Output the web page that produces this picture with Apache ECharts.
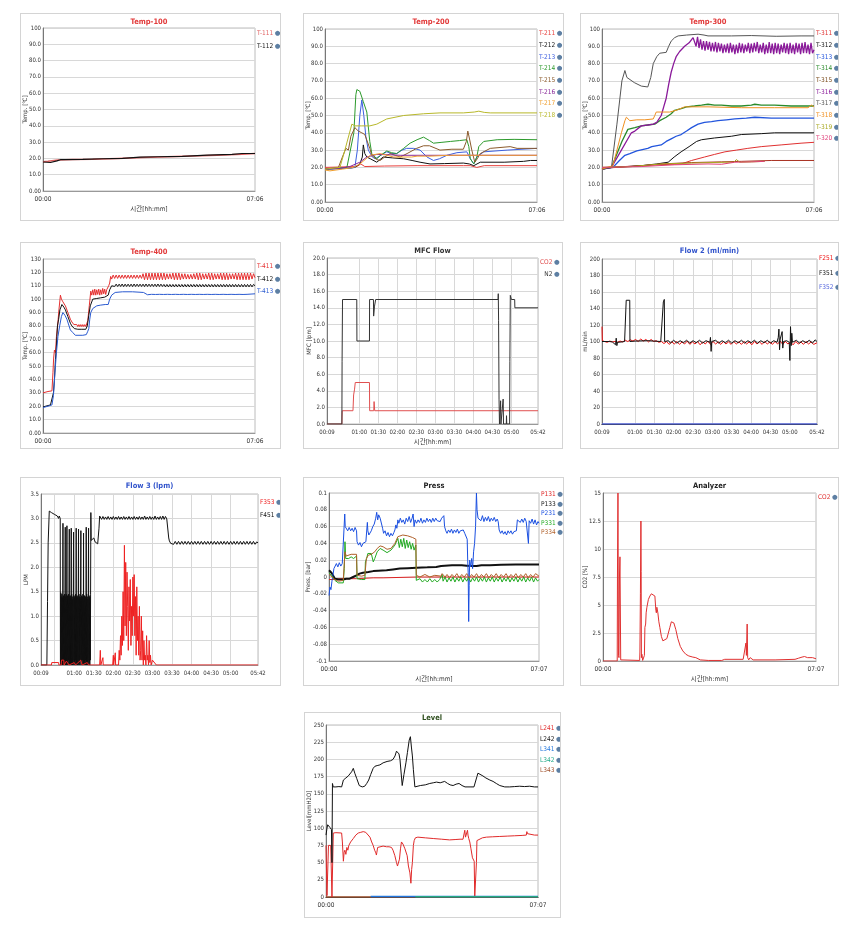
<!DOCTYPE html>
<html><head><meta charset="utf-8">
<script src="https://cdn.jsdelivr.net/npm/echarts@6/dist/echarts.min.js"></script>
<style>
body{margin:0;background:#fff;width:858px;height:936px;position:relative;overflow:hidden}
.p{position:absolute;border:1px solid #d4d4d4;box-sizing:border-box;background:#fff}
</style></head><body>
<div id="c1" class="p" style="left:20px;top:13px;width:261px;height:208px"></div>
<div id="c2" class="p" style="left:303px;top:13px;width:261px;height:208px"></div>
<div id="c3" class="p" style="left:580px;top:13px;width:259px;height:208px"></div>
<div id="c4" class="p" style="left:20px;top:242px;width:261px;height:207px"></div>
<div id="c5" class="p" style="left:303px;top:242px;width:260px;height:207px"></div>
<div id="c6" class="p" style="left:580px;top:242px;width:259px;height:207px"></div>
<div id="c7" class="p" style="left:20px;top:477px;width:261px;height:209px"></div>
<div id="c8" class="p" style="left:303px;top:477px;width:261px;height:209px"></div>
<div id="c9" class="p" style="left:580px;top:477px;width:259px;height:209px"></div>
<div id="c10" class="p" style="left:304px;top:712px;width:257px;height:206px"></div>
<script>
// ---------- tick label positions (minutes) ----------
const ticksT = [0, 426];
const ticks7 = [0, 427];
const ticksFlow = [9, 60, 90, 120, 150, 180, 210, 240, 270, 300, 342];
const ticksFlow3 = [9, 30, 60, 90, 120, 150, 180, 210, 240, 270, 300, 342];

// ---------- Temp-100 ----------
const T111 = [[0,18],[10,18.2],[30,19],[60,19.3],[100,19.5],[150,20],[200,20.5],[250,21],[300,21.5],[350,22],[400,22.5],[426,23]];
const T112 = [[0,17.8],[15,17.5],[28,18.5],[35,19.2],[80,19.4],[120,19.8],[160,20],[195,20.8],[230,21],[280,21.3],[330,22],[380,22.5],[400,23],[426,23]];

// ---------- Temp-200 ----------
const T211 = [[0,20],[64,20.5],[72,22],[80,20.5],[120,20.8],[185,21],[278,21],[292,21],[305,20],[320,21],[426,21]];
const T212 = [[0,19],[45,19.5],[60,20],[70,22],[75,26],[77,33],[80,28],[84,26],[91,25],[104,23],[117,26],[135,25.5],[158,25],[175,24],[191,23],[211,22],[240,22.2],[278,22.5],[290,22],[299,21],[312,23],[360,23],[399,23.5],[413,24],[426,24]];
const T213 = [[0,19],[50,19.5],[60,20],[65,30],[70,50],[74,59],[78,50],[82,38],[87,30],[95,26],[101,25],[112,27],[124,29],[134,28],[144,28],[155,30],[164,31],[178,31],[191,30],[205,26],[218,24],[230,25],[245,27],[265,28.5],[285,29],[292,25],[299,22],[305,26],[319,29],[366,30],[426,31]];
const T214 = [[0,19],[44,20],[58,40],[62,62],[64,65],[70,64],[77,58],[84,52],[90,35],[94,28],[104,25],[112,27],[124,29.5],[134,28.5],[144,28],[158,31],[171,34],[185,36],[198,37.5],[210,35.5],[218,34],[235,34.5],[252,35],[270,35.5],[285,36],[289,32],[292,25],[299,22],[305,26],[309,32],[319,35],[346,36],[380,36.2],[426,36]];
const T215 = [[0,19],[27,20],[35,26],[42,31],[47,30],[52,38],[60,43],[67,41],[74,40],[80,39],[84,38],[90,31],[94,27],[104,24.5],[111,24],[120,26],[131,28],[141,27],[151,26],[165,28],[184,31],[198,32.5],[210,32.5],[231,30],[255,30.5],[278,30.5],[284,35],[287,41],[290,37],[295,30],[301,23],[306,25],[312,28],[332,31],[372,32],[386,31],[426,31]];
const T216 = [[0,19],[30,19.5],[50,20.5],[70,23],[84,26],[104,27.5],[130,27.3],[151,27],[200,27],[300,27],[426,27]];
const T217 = [[0,18.5],[10,18],[35,19],[57,20],[70,22],[91,27],[111,28],[125,27],[138,26],[174,26],[185,26.5],[211,26.5],[250,27],[426,27]];
const T218 = [[0,19],[30,20],[40,30],[54,45],[60,44],[74,44],[90,44],[104,45],[124,48],[158,50],[198,51],[231,51.5],[278,51.5],[300,52],[309,52.5],[320,51.8],[332,51.5],[426,51.5]];

// ---------- Temp-300 ----------
const T311 = [[0,20],[46,20.5],[113,21.5],[159,22],[180,24],[206,26],[226,27.5],[247,29],[270,30],[293,31],[320,32],[360,33],[400,34],[426,34.5]];
const T312 = [[0,19],[19,20],[50,20.5],[79,21],[110,22],[133,23],[145,26],[159,29],[175,32],[190,35],[200,36],[226,37],[260,38],[280,39],[320,39.5],[347,40],[426,40]];
const T313 = [[0,19],[22,20],[35,24],[46,27],[56,28],[70,29.5],[92,31],[100,32],[119,33],[129,35],[139,36.5],[149,38],[159,39],[170,41],[180,43],[193,45],[206,46],[220,46.5],[233,47],[250,47.5],[267,48],[290,48.5],[307,49],[340,48.5],[380,48.5],[426,48.5]];
const T314 = [[0,19],[19,20],[40,35],[52,42],[66,43],[79,44],[92,44.5],[106,45],[116,47],[129,49],[139,51],[146,53],[159,54],[170,55],[186,55.5],[200,56],[213,56.5],[226,56],[240,56],[260,55.5],[280,55.5],[300,56],[307,56.5],[320,56],[347,56],[380,55.5],[426,55.5]];
const T315 = [[0,19.5],[60,20.5],[120,22],[180,22.8],[240,23.2],[280,23.5],[340,24],[426,24]];
const T316 = [[0,19],[19,20],[59,40],[66,41],[79,44],[92,44.5],[103,45],[110,46],[119,50],[124,55],[129,60],[134,68],[139,75],[144,80],[149,84],[156,87],[166,90],[175,92],[183,95],
 [186,95],[189,90],[192,95.5],[195,89],[198,94],[201,88],[204,93],[207,87.5],[210,93],[213,88],[216,92.5],[219,87],[222,92],[225,87],[228,92.5],[231,86.5],[234,92],[237,87],[240,91.5],[243,86],[246,91],[249,86.5],[252,91.5],[255,86],[258,92],[261,86.5],[264,91],[267,85.5],[270,91],[273,86],[276,92],[279,86.5],[282,91.5],[285,86],[288,91],[291,87],[294,92],[297,86],[300,91.5],[303,86.5],[306,92],[309,87],[312,92.5],[315,86],[318,91],[321,86.5],[324,92],[327,85.5],[330,91],[333,86],[336,92.5],[339,86],[342,91.5],[345,85.5],[348,92],[351,86],[354,91.5],[357,85.5],[360,91],[363,86.5],[366,92],[369,86],[372,91.5],[375,85.5],[378,92],[381,86],[384,91],[387,85.5],[390,92],[393,86.5],[396,91.5],[399,85.5],[402,92],[405,86],[408,92.5],[411,86],[414,91],[417,85.5],[420,92],[423,86],[426,88]];
const T317 = [[0,19],[19,20],[30,45],[40,70],[46,76],[50,72],[52,71],[65,69],[79,67],[92,66.5],[98,72],[103,80],[110,84],[116,86],[129,86.5],[134,90],[139,93],[146,95],[153,96],[170,96.5],[193,97],[205,96.5],[213,96],[260,96],[300,96.2],[350,95.8],[400,96],[426,96]];
const T318 = [[0,19],[22,21],[30,30],[39,40],[46,47],[49,49],[56,47],[70,47.5],[86,47.5],[103,48],[106,50],[109,52],[120,52],[136,52],[149,53],[166,55],[186,55],[213,55],[280,54.5],[347,54.5],[414,54.5],[421,56],[426,55]];
const T319 = [[0,20],[60,20.5],[119,22],[180,22.5],[247,23],[265,23],[270,24.5],[277,23],[300,23.2],[327,23.5]];
const T320 = [[0,20],[80,20.5],[146,21.5],[213,22],[240,21.8],[267,23],[300,23.2],[327,23.5]];

// ---------- Temp-400 ----------
const T411 = [[0,30],[10,31],[18,31.5],[20,45],[21.4,56],[23,62],[25,60],[27,72],[29.4,80],[32,92],[35,103],[37,100],[40,98],[45,95],[50,90],[55,85],[58,83],[62,81],[65,80],
 [68,81],[70,79.5],[72,81],[74,79.5],[76,81],[78,79.5],[80,81],[82,79.5],[84,81],[86,79.5],[88,80.5],[90,84],[93,95],[96,106],[98,103],
 [100,107],[102,103],[104,107.5],[106,103],[108,107],[110,103.5],[112,107.5],[114,103],[116,107],[118,103.5],[120,108],[122,104],[124,107.5],[126,103.5],[128,107],[130,106],[132,110],[134,112],[136,117],[138,115],
 [141,118],[144,115.5],[147,118],[150,115.5],[153,118],[156,115.5],[159,118],[162,115.5],[165,118],[168,115.5],[171,118],[174,115.5],[177,118],[180,115.5],[183,118],[186,115.5],[189,118],[192,115.5],[195,118],[198,115.5],[201,119],[204,114.5],[207,119.5],[210,114.5],[213,119.5],[216,114.5],[219,119.5],[222,114.5],[225,119.5],[228,114.5],[231,119.5],[234,114.5],[237,119.5],[240,114.5],[243,119.5],[246,114.5],[249,119],[252,115],[255,119],[258,115],[261,119.5],[264,114.5],[267,119.5],[270,114.5],[273,119.5],[276,114.5],[279,119],[282,115],[285,119],[288,115],[291,118.5],[294,115],[297,118.5],[300,115],[303,119],[306,115],[309,119.5],[312,114.5],[315,119.5],[318,114.5],[321,119],[324,115],[327,119],[330,115],[333,119.5],[336,114.5],[339,119.5],[342,114.5],[345,119],[348,115],[351,119],[354,115],[357,119.5],[360,114.5],[363,119.5],[366,114.5],[369,119.5],[372,114.5],[375,119],[378,115],[381,119],[384,115],[387,119.5],[390,114.5],[393,119.5],[396,114.5],[399,119.5],[402,114.5],[405,119.5],[408,114.5],[411,119.5],[414,114.5],[417,119.5],[420,115],[423,119],[426,116]];
const T412 = [[0,19.5],[15,21],[18,22],[21,30],[23,40],[25,55],[27,65],[29,80],[31.4,85],[34,92],[38,96],[42,94],[45,92],[50,87],[55,82],[58,80],[63,78],
 [66,78.5],[70,77.5],[74,78.5],[78,77.5],[82,78.5],[86,77.5],[89,80],[92,88],[95,95],[100,100],[104,101],[108,100.5],[112,101.5],[116,101],[120,102],[124,101.5],[128,102.5],[131,103],[134,107],[138,110],
 [141,111.2],[144,109.5],[147,111.2],[150,109.5],[153,111.2],[156,109.5],[159,111.3],[162,109.4],[165,111.2],[168,109.5],[171,111.2],[174,109.5],[177,111.2],[180,109.4],[183,111.3],[186,109.5],[189,111.2],[192,109.5],[195,111.2],[198,109.5],[201,111.2],[204,109.4],[207,111.3],[210,109.5],[213,111.2],[216,109.5],[219,111.2],[222,109.5],[225,111.2],[228,109.4],[231,111.3],[234,109.5],[237,111.2],[240,109.5],[243,111],[246,109.2],[249,111],[252,109.2],[255,111],[258,109.2],[261,111],[264,109.2],[267,111],[270,109.2],[273,111],[276,109.2],[279,111],[282,109.2],[285,111],[288,109.2],[291,111],[294,109.2],[297,111],[300,109.2],[303,111],[306,109.2],[309,111],[312,109.2],[315,111],[318,109.2],[321,111],[324,109.2],[327,111],[330,109.2],[333,111],[336,109.2],[339,111],[342,109.2],[345,111],[348,109.2],[351,111],[354,109.2],[357,111],[360,109.2],[363,111],[366,109.2],[369,111],[372,109.2],[375,111],[378,109.2],[381,111],[384,109.2],[387,111],[390,109.2],[393,111],[396,109.2],[399,111],[402,109.2],[405,111],[408,109.2],[411,111],[414,109.2],[417,111],[420,109.2],[423,111],[426,110]];
const T413 = [[0,19],[10,20],[18,21],[21,28],[24,45],[27,60],[30,72],[33.5,80],[37,87],[40,90],[44,88],[48,85],[55,77],[60,75],[65,73],[80,73],[87,73.5],[90,76],[92,78],[94,85],[96,90],[100,93],[108,95],[115,95.5],[125,96],[131,96],[134,100],[138,103],[145,105],[160,105.5],[180,105.5],[202,105],[206,104],
 [210,103.3],[214,102.6],[218,103.6],[222,102.7],[226,103.5],[230,102.6],[234,103.6],[238,102.7],[242,103.5],[246,102.6],[250,103.6],[254,102.7],[258,103.5],[262,102.6],[266,103.6],[270,102.7],[274,103.5],[278,102.6],[282,103.6],[286,102.7],[290,103.5],[294,102.6],[298,103.6],[302,102.7],[306,103.5],[310,102.6],[314,103.6],[318,102.7],[322,103.5],[326,102.6],[330,103.6],[334,102.7],[338,103.5],[342,102.6],[346,103.6],[350,102.7],[354,103.5],[358,102.6],[362,103.6],[366,102.7],[370,103.5],[374,102.6],[378,103.6],[382,102.7],[386,103.5],[390,102.6],[394,103.6],[398,102.7],[402,103.5],[406,102.6],[410,103.6],[414,102.7],[418,103.8],[422,103],[426,104]];

// ---------- MFC Flow ----------
const mfcCO2 = [[9,0],[32.5,0],[33,1.6],[50,1.6],[51,3.5],[52.5,4.2],[53.6,5],[76,5],[76.3,1.6],[82.8,1.6],[83.3,2.7],[84,2.7],[84.3,1.6],[342,1.6]];
const mfcN2 = [[9,0],[32.5,0],[32.8,7.5],[33.5,15],[56,15],[56.2,10],[76,10],[76.2,15],[82.3,15],[82.6,13],[83.2,13.2],[84,14.2],[85.8,15],[279,15],[279.3,15.7],[279.8,12.5],[280.5,3],[281.2,0],[282.5,0],[283,2.8],[283.5,0],[286.5,0],[287,3],[287.6,0],[292,0],[292.3,1],[292.7,0],[297.2,0],[297.6,7.5],[298.3,15.5],[300,15],[305.2,15],[305.5,14],[342,14]];

// ---------- Flow 2 ----------
const F251 = [[9,118],[9.5,101],[13,100],[17,99],[21,100.5],[25,99.5],[29,100],[33,99],[37,100.5],[41,99.5],[45,101.5],[49,100],[53,102],[57,100.5],[61,102.5],[65,100],[69,103],[73,100.5],[77,102.5],[81,99.5],[85,102.5],[89,100],[93,101],[97,99],[101,100],[105,97.5],[109,100],[113,96.5],[117,99.5],[121,97],[125,100],[129,96.5],[133,99.5],[137,97],[141,100.5],[145,96.5],[149,99.5],[153,97],[157,100],[161,96],[165,99.5],[169,97],[173,100.5],[177,96.5],[181,100],[185,97],[189,99.5],[193,96.5],[197,100],[201,97],[205,99.5],[209,96.5],[213,100],[217,97],[221,99.5],[225,96.5],[229,100],[233,97],[237,99.5],[241,96],[245,100],[249,97],[253,99.5],[257,96.5],[261,100],[265,97],[269,99.5],[273,96.5],[277,100],[281,97],[285,100.5],[289,96.5],[293,100],[297,97],[301,99.5],[305,96],[309,100],[313,97],[317,99.5],[321,96.5],[325,100],[329,97],[333,99.5],[337,96.5],[342,98.5]];
const F351 = [[9,100],[20,100],[25,99.5],[28,99],[30,96],[31,104],[32,95],[33,99],[40,99.5],[44,100],[45,120],[46.5,150],[52,150],[52.3,100],[60,100.5],[80,101],[100,100],[103,99],[104,148],[105.5,151],[106,100],[107,98.5],[112,101],[115,98],[120,101.5],[125,98],[130,101],[135,98.5],[140,101.5],[145,98],[150,101],[155,98.5],[160,101.5],[165,98],[170,101],[176,99],[177,105],[178,88],[179,100],[185,101.5],[190,98],[195,101],[200,98.5],[205,101.5],[210,98],[215,101],[220,98.5],[225,101.5],[230,98],[235,101],[240,98.5],[245,101.5],[250,98],[255,101],[260,98.5],[265,101.5],[270,98],[275,101],[280,99],[282,105],[283,115],[284,90],[285,103],[288,112],[289,92],[290,100],[295,101],[299,99],[300,77],[301,118],[302,95],[303,110],[304,99],[310,101.5],[315,98],[320,101],[325,98.5],[330,101.5],[335,98],[339,102],[342,100]];
const F352 = [[9,0],[342,0]];

// ---------- Flow 3 ----------
const F353 = [[9,0],[25,0],[25.5,0.05],[36,0.05],[36.5,0],[40,0],[40.5,0.1],[44,0.1],[44.5,0],[48,0.08],[52,0],[60,0.05],[62,0],[70,0.1],[72,0],[80,0.05],[82,0],[99,0],[100,0.3],[100.8,0],[104,0.15],[104.5,0],[119,0],[120,0.2],[120.5,0],[123,0.25],[123.5,0],[128,0],[129,0.3],[130,0.1],[131,0.6],[132,0.2],[133,1.0],[134,0.4],[135,1.5],[136,0.5],[137,2.45],[138,0.8],[139,2.1],[140,0.6],[141,1.9],[142,1.2],[143,0.3],[144,1.6],[145,0.9],[146,1.75],[147,0.4],[148,1.2],[149,0.6],[150,1.8],[151,1.0],[152,1.85],[153,0.6],[154,1.4],[155,0.2],[156,1.6],[157,0.5],[158,1.0],[159,0.2],[160,1.2],[161,0.1],[162,0.3],[163,1.0],[164,0.1],[165,0.7],[166,0],[167,0.5],[168,0.1],[169,0.2],[170,0],[171,0.6],[172,0.1],[173,0.2],[174,0],[175,0.5],[176,0.05],[177,0.2],[178,0],[180,0.1],[186,0],[342,0]];
const F451 = [[9,0],[18,0],[19,1.3],[20,2.5],[21.7,3.15],[25,3.12],[30,3.08],[34,3.05],[36,3.0],[37,3.05],[38.5,3.0],[38.8,0.05],
 [39.0,0],[39.4,1.48],[39.8,0.1],[40.2,1.4],[40.6,0],[41.0,1.45],[41.4,0.05],[41.8,1.38],[42.2,0],[42.7,2.9],[43.0,0],[43.4,1.42],[43.8,0.1],[44.2,1.4],[44.6,0],[45.0,1.45],[45.4,0.05],[45.8,1.35],[46.2,2.82],[46.5,0],[46.9,1.4],[47.3,0.1],[47.7,1.45],[48.1,0],[48.5,1.38],[48.8,2.85],[49.1,0],[49.5,1.42],[49.9,0.05],[50.3,1.4],[50.7,0],[51.1,1.45],[51.5,0.1],[51.9,1.35],[52.4,2.78],[52.7,0],[53.1,1.4],[53.5,0.05],[53.9,1.42],[54.3,0],[54.7,1.38],[55.0,0.1],[55.4,2.8],[55.7,0],[56.1,1.45],[56.5,0.05],[56.9,1.4],[57.3,0],[57.7,1.35],[58.1,0.1],[58.5,1.4],[59.0,2.72],[59.3,0],[59.7,1.42],[60.1,0.05],[60.5,1.38],[60.9,0],[61.3,1.4],[61.7,0.1],[62.1,1.45],[62.5,0],[63.0,2.8],[63.3,0],[63.7,1.4],[64.1,0.05],[64.5,1.42],[64.9,0],[65.3,1.38],[65.7,0.1],[66.1,1.4],[66.6,2.78],[66.9,0],[67.3,1.45],[67.7,0.05],[68.1,1.4],[68.5,0],[68.9,1.35],[69.3,0.1],[69.7,1.4],[70.2,2.75],[70.5,0],[70.9,1.42],[71.3,0.05],[71.7,1.38],[72.1,0],[72.5,1.4],[72.9,0.1],[73.3,1.45],[73.8,0],[74.3,2.7],[74.6,0],[75.0,1.4],[75.4,0.05],[75.8,1.42],[76.2,0],[76.6,1.38],[77.0,0.1],[77.4,1.4],[77.8,0],[78.4,2.82],[78.7,0],[79.1,1.45],[79.5,0.05],[79.9,1.4],[80.3,0],[80.7,1.35],[81.1,0.1],[81.5,1.4],[82.0,2.8],[82.3,0],[82.7,1.42],[83.1,0.05],[83.5,1.38],[83.9,0],[84.3,1.4],[84.7,0.1],[85.1,1.45],[85.5,3.12],[86,2.55],
 [88,2.58],[90,2.6],[92,2.52],[94.7,2.5],[96,2.48],[97,2.5],[98,2.8],[99,3.05],
 [100,3.03],[102,2.98],[104,3.04],[106,2.98],[108,3.03],[110,2.98],[112,3.04],[114,2.98],[116,3.03],[118,2.98],[120,3.04],[122,2.98],[124,3.03],[126,2.98],[128,3.04],[130,2.98],[132,3.03],[134,2.98],[136,3.04],[138,2.98],[140,3.03],[142,2.98],[144,3.04],[146,2.98],[148,3.03],[150,2.98],[152,3.04],[154,2.98],[156,3.03],[158,2.98],[160,3.04],[162,2.98],[164,3.03],[166,2.98],[168,3.05],[170,2.98],[172,3.03],[174,2.98],[176,3.04],[178,2.98],[180,3.03],[182,2.98],[184,3.05],[186,2.98],[188,3.03],[190,2.98],[192,3.04],[194,2.98],[196,3.05],[198,2.98],[200,3.04],[202,2.99],[204,3.0],[205,2.6],[206,2.54],[208,2.49],
 [210,2.53],[212.5,2.47],[215,2.53],[217.5,2.47],[220,2.53],[222.5,2.47],[225,2.53],[227.5,2.47],[230,2.53],[232.5,2.47],[235,2.53],[237.5,2.47],[240,2.53],[242.5,2.47],[245,2.53],[247.5,2.47],[250,2.53],[252.5,2.47],[255,2.53],[257.5,2.47],[260,2.53],[262.5,2.47],[265,2.53],[267.5,2.47],[270,2.53],[272.5,2.47],[275,2.53],[277.5,2.47],[280,2.53],[282.5,2.47],[285,2.53],[287.5,2.47],[290,2.53],[292.5,2.47],[295,2.53],[297.5,2.47],[300,2.53],[302.5,2.47],[305,2.53],[307.5,2.47],[310,2.53],[312.5,2.47],[315,2.53],[317.5,2.47],[320,2.53],[322.5,2.47],[325,2.53],[327.5,2.47],[330,2.53],[332.5,2.47],[335,2.53],[337.5,2.47],[340,2.52],[342,2.5]];

// ---------- Press ----------
const P131 = [[0,-0.003],[10,-0.003],[20,-0.002],[56,-0.002],[90,-0.001],[110,-0.001],[178,0],[427,0]];
const P133 = [[0,0.008],[5,0.005],[8,0.002],[12,-0.002],[20,-0.003],[29,-0.003],[35,-0.002],[42,-0.002],[49,0],[56,0.002],[62,0.004],[69,0.005],[80,0.006],[90,0.007],[100,0.0075],[117,0.008],[130,0.009],[144,0.01],[160,0.0105],[178,0.011],[200,0.0115],[218,0.012],[228,0.013],[232,0.014],[250,0.014],[270,0.014],[280,0.0135],[290,0.013],[300,0.013],[310,0.014],[327,0.014],[350,0.0145],[380,0.015],[400,0.015],[427,0.015]];
const P231 = [[0,-0.022],[2,-0.012],[4,-0.015],[6,-0.005],[8,0.002],[10,0.01],[12,0.012],[15,0.016],[18,0.012],[21,0.017],[24,0.013],[27,0.016],[30,0.015],[32,0.075],[33,0.06],[35,0.058],[38,0.055],[41,0.059],[44,0.055],[47,0.058],[50,0.054],[53,0.059],[56,0.055],[57,0.042],[60,0.038],[63,0.041],[66,0.036],[69,0.04],[72,0.038],[75,0.042],[76.5,0.04],[78,0.065],[79,0.055],[81,0.05],[83,0.048],[86,0.055],[89,0.06],[92,0.063],[95,0.07],[97,0.077],[99,0.068],[101,0.074],[104,0.07],[107,0.072],[109,0.058],[111,0.052],[114,0.055],[117,0.049],[120,0.053],[123,0.048],[126,0.052],[129,0.049],[132,0.053],[134,0.056],[136,0.062],[138,0.058],[140,0.068],[142,0.064],[145,0.07],[148,0.065],[151,0.068],[154,0.063],[157,0.07],[160,0.066],[163,0.072],[166,0.065],[169,0.07],[171,0.075],[173,0.06],[175,0.068],[178,0.064],[181,0.068],[184,0.065],[187,0.07],[190,0.064],[193,0.068],[196,0.065],[199,0.07],[202,0.066],[205,0.069],[208,0.065],[211,0.07],[214,0.066],[217,0.07],[220,0.067],[223,0.069],[226,0.066],[229,0.07],[232,0.068],[233.5,0.073],[235,0.06],[237.5,0.055],[240,0.052],[243,0.056],[246,0.053],[249,0.057],[252,0.052],[255,0.056],[258,0.053],[261,0.057],[264,0.052],[267,0.055],[270,0.053],[273,0.056],[276,0.052],[279.5,0.054],[281,0.045],[282,0.02],[283,0.005],[284,-0.053],[285,-0.01],[286,0.02],[288,0.012],[290,0.022],[292,0.01],[294,0.03],[296,0.04],[298,0.06],[299.8,0.1],[301,0.08],[303,0.07],[306,0.072],[309,0.067],[312,0.073],[315,0.066],[318,0.071],[321,0.067],[324,0.072],[327,0.066],[330,0.07],[333,0.067],[336,0.071],[339,0.066],[342,0.069],[344,0.066],[346,0.056],[349,0.052],[352,0.055],[355,0.051],[358,0.054],[361,0.05],[364,0.055],[367,0.052],[370,0.055],[373,0.051],[376,0.054],[379,0.052],[381,0.055],[383,0.068],[386,0.07],[389,0.065],[392,0.069],[395,0.065],[398,0.07],[401,0.066],[404,0.068],[405.5,0.04],[407,0.067],[410,0.064],[413,0.069],[416,0.063],[419,0.068],[422,0.062],[425,0.066],[427,0.064]];
const P331 = [[0,0.005],[5,0.002],[12,-0.004],[19,-0.007],[29,-0.007],[31,0.01],[32.5,0.042],[34,0.022],[40,0.022],[45,0.024],[50,0.022],[56,0.025],[57,-0.002],[60,-0.003],[66,-0.003],[73,-0.003],[74,0.018],[76.5,0.022],[79,0.028],[83,0.03],[86,0.028],[90,0.018],[93,0.022],[97,0.02],[98,0.03],[100,0.032],[104,0.034],[107,0.035],[110,0.032],[114,0.03],[118,0.029],[122,0.03],[126,0.032],[130,0.033],[134,0.038],[137,0.04],[140,0.046],[143,0.035],[146,0.045],[149,0.036],[152,0.046],[155,0.034],[158,0.044],[161,0.035],[164,0.042],[167,0.033],[170,0.04],[173,0.032],[176.6,0.038],[177.5,-0.004],[180,-0.006],[185,-0.002],[190,-0.006],[195,-0.003],[200,-0.006],[205,-0.002],[210,-0.006],[215,-0.003],[220,-0.006],[225,-0.003],[228.7,-0.005],[230,0.003],[232,-0.005],[236,0],[240,-0.006],[244,-0.001],[248,-0.005],[252,0],[256,-0.006],[260,-0.001],[264,-0.005],[268,0],[272,-0.006],[276,-0.001],[280,-0.005],[284,0],[288,-0.006],[292,-0.001],[296,-0.005],[300,0],[304,-0.006],[308,-0.001],[312,-0.005],[316,0],[320,-0.006],[324,-0.001],[328,-0.005],[332,0],[336,-0.006],[340,-0.001],[344,-0.005],[348,0],[352,-0.006],[356,-0.001],[360,-0.005],[364,0],[368,-0.006],[372,-0.001],[376,-0.005],[380,0],[384,-0.006],[388,-0.001],[392,-0.005],[396,0],[400,-0.006],[404,-0.001],[408,-0.005],[412,0],[416,-0.006],[420,-0.001],[424,-0.005],[427,-0.003]];
const P334 = [[0,0.003],[12,-0.003],[19,-0.005],[29,-0.004],[32.5,0.03],[35,0.025],[45,0.027],[56,0.027],[57,0.002],[66,0.001],[73,0.002],[76,0.022],[80,0.026],[86,0.027],[93,0.03],[98,0.034],[104,0.037],[110,0.036],[118,0.033],[126,0.034],[134,0.04],[140,0.048],[150,0.05],[160,0.049],[170,0.047],[176.6,0.045],[177.5,0.002],[185,0],[195,0.003],[205,0],[215,0.002],[228,0.001],[230,0.004],[236,0],[240,0.003],[245,-0.001],[250,0.003],[255,0],[260,0.004],[265,-0.001],[270,0.003],[275,0],[280,0.004],[285,-0.001],[290,0.003],[295,0],[300,0.004],[305,-0.001],[310,0.003],[315,0],[320,0.004],[325,-0.001],[330,0.003],[335,0],[340,0.004],[345,-0.001],[350,0.003],[355,0],[360,0.004],[365,-0.001],[370,0.003],[375,0],[380,0.004],[385,-0.001],[390,0.003],[395,0],[400,0.004],[405,-0.001],[410,0.003],[415,0],[420,0.004],[427,0.001]];

// ---------- Analyzer ----------
const anCO2 = [[0,0],[28.5,0],[29,7.5],[30,15],[31,0.5],[32,0.3],[33,7.5],[34,9.3],[35,9.3],[35.5,0.1],[37.5,0.05],[73.5,0.05],[74,0.8],[75,6],[76,12.5],[76.5,8],[77,0.3],[78,0.6],[79.5,0.05],[81.5,0],[83,0.5],[84,3],[85.5,3.3],[86.5,4.3],[88,4.8],[91,5.5],[94,5.8],[97,6],[100,5.9],[104,5.8],[106,4.5],[107,4.3],[108,4.8],[110,4.3],[112,3.5],[114,3],[117,2.2],[120,1.8],[124,1.7],[128,2],[131,2.5],[134,3],[137,3.5],[139,3.6],[142,3.4],[146,2.8],[150,2],[155,1.3],[160,0.9],[166,0.6],[172,0.45],[180,0.35],[186,0.3],[190,0.2],[195,0.1],[211,0.05],[238,0.05],[244,0.15],[281,0.15],[282,0],[285,0.2],[286.5,1.6],[287.5,0.5],[289,3.3],[290,0.3],[292,0.1],[295,0.3],[298,0.25],[301,0.1],[345,0.1],[347,0.2],[349,0.1],[385,0.15],[392,0.25],[399,0.35],[404,0.4],[410,0.3],[420,0.3],[427,0.2]];

// ---------- Level ----------
const L241 = [[0,75],[1,73],[2,2],[4,3],[5,75],[9.5,75],[11,75],[12,0],[13.5,0],[14.7,93],[20,93.5],[31.5,93],[33,80],[35,52],[36.5,65],[38,68],[40,62],[42,72],[44,68],[46,75],[49.6,80],[55,85],[60,90],[65,93],[70,94],[75,95],[80,94],[84,92],[88.5,87],[92,80],[95,75],[98,68],[100.5,64],[101.5,61],[102.5,65],[104,72],[108,73],[115,74],[122,73],[127,73],[132,72],[135,68],[138.7,60],[142,50],[144,45],[146,44],[148,55],[150,70],[152,80],[155,77],[159,70],[163.5,60],[166,45],[169,35],[171,20],[172.5,40],[174,50],[176,75],[177.6,82],[180,86],[185,87],[200,86],[216,85],[233,84],[249,83],[260,83.5],[270,84],[276,84],[278,86],[279.5,97],[281,87],[284,88],[285,97],[286,90],[287.5,85],[289.6,80],[292,70],[295,57],[297,55],[298.5,52],[299.6,0],[302,0],[303,50],[304,82],[308,84],[315,86],[323,87],[335,87.5],[350,88],[365,88.5],[380,89],[395,89.5],[403.5,90],[404.5,95],[406,92],[410,91],[420,90],[427,90]];
const L242 = [[0,90],[2,100],[3.4,105],[5,107],[8,101],[11,98],[12,50],[13,165],[14.5,160],[20,160],[26,160.5],[31.5,160],[35,170],[40,173],[45,176],[51.6,182],[55,187],[58,180],[62,172],[67,162],[73,160],[78,161],[82,165],[86,170],[90,178],[95,187],[98.5,190],[103,191],[108.6,192],[115,195],[123,197],[130,198],[135,200],[139,205],[142,212],[145,213],[147,208],[149,200],[153.5,162],[157,178],[161,195],[164,210],[167.6,228],[170,233],[172,218],[174,205],[176,185],[179,160],[183,161],[190,162],[200,163],[209,165],[216,166],[222.5,167],[230,166],[239,168],[245,165],[250,163],[256,162],[262,164],[268,165],[274,162],[280,160],[286,160],[292,160],[298,160],[301.6,160],[304,175],[306,180],[310,179],[316,176],[322,173],[330,170],[336.5,168],[343,165],[350,162],[360,160],[370,160],[380,160.5],[390,161],[400,160.5],[410,161],[420,160],[427,160]];
const L341 = [[90,0.8],[427,0.8]];
const L342 = [[180,0.4],[427,0.4]];
const L343 = [[0,0],[427,0]];

// ---------- helpers ----------
const FONT = "'Liberation Sans Narrow','DejaVu Sans Condensed','Liberation Sans','Noto Sans CJK KR',sans-serif";
function hhmm(v){const h=Math.floor(v/60), m=Math.round(v-h*60);return String(h).padStart(2,'0')+':'+String(m).padStart(2,'0');}
const fmtT = v => v===0 ? '0.00' : (Math.abs(v)>=100 ? String(v) : v.toFixed(1));
const fmt1 = v => v.toFixed(1);
const fmtN = v => String(+v.toFixed(3));
const XNAME = '시간[hh:mm]';

function build(id, c){
  const el = document.getElementById(id);
  const ch = echarts.init(el, null, {renderer:'canvas'});
  const g = c.grid;
  const xAxes = [{
    type:'value', min:c.xmin, max:c.xmax,
    axisLine:{show:true, onZero:false, lineStyle:{color:'#999', width:1}},
    axisTick:{show:false, customValues:c.ticks},
    axisLabel:{customValues:c.ticks, formatter:hhmm, fontSize:c.xfs||6.5, color:'#333', margin:5, fontFamily:FONT,
      hideOverlap:false, showMinLabel:true, showMaxLabel:true},
    splitLine:{show:!!c.vgrid, lineStyle:{color:'#d8d8d8', width:1}},
    name:c.xname||'', nameLocation:'middle', nameGap:15, nameMoveOverlap:false,
    nameTextStyle:{fontSize:6.5, color:'#333', fontFamily:FONT}
  }];
  if (c.topLine) xAxes.push({type:'value', position:'top', min:c.xmin, max:c.xmax,
    axisLine:{show:true, lineStyle:{color:c.topLine, width:1}}, axisTick:{show:false}, axisLabel:{show:false}, splitLine:{show:false}});
  const opt = {
    animation:false,
    textStyle:{fontFamily:FONT},
    title:{text:c.title, left:g.l+g.w/2, top:c.titleTop, textAlign:'center', padding:0,
      textStyle:{fontSize:7.5, fontWeight:'bold', color:c.titleColor, fontFamily:FONT}},
    grid:{left:g.l, top:g.t, width:g.w, height:g.h, show:true, borderColor:'#bcbcbc', borderWidth:1,
      backgroundColor:'#fff', containLabel:false, outerBoundsMode:'none'},
    legend:{orient:'vertical', left:g.l+g.w+2, top:c.legTop, itemGap:c.legGap, itemWidth:0, itemHeight:0,
      align:'right', selectedMode:false, padding:0, icon:'circle',
      formatter: n => '{t|' + n + '}{i|●}',
      textStyle:{fontSize:6.5, fontFamily:FONT,
        rich:{t:{fontSize:6.5, fontFamily:FONT}, i:{fontSize:6.5, color:'#5d7fa3', padding:[0,0,0,1.5], fontFamily:'DejaVu Sans'}}},
      data:c.series.map(s=>({name:s.name, textStyle:{color:s.lc||s.color}}))},
    xAxis:xAxes,
    yAxis:{type:'value', min:c.ymin, max:c.ymax, interval:c.yint,
      axisLine:{show:true, lineStyle:{color:'#777', width:1}}, axisTick:{show:false},
      axisLabel:{fontSize:6, color:'#333', margin:2, formatter:c.yfmt, fontFamily:FONT},
      splitLine:{show:true, lineStyle:{color:'#d8d8d8', width:1}},
      name:c.yname, nameLocation:'middle', nameGap:c.ynameGap||14.5, nameMoveOverlap:false,
      nameTextStyle:{fontSize:6, color:'#333', fontFamily:FONT}},
    series:c.series.map(s=>({type:'line', name:s.name, data:s.data, xAxisIndex:0, showSymbol:false, symbol:'none',
      lineStyle:{color:s.color, width:s.w||1}, itemStyle:{color:s.color}, clip:true, z:s.z||2, silent:true}))
  };
  ch.setOption(opt);
}

const RED='#e23a3a';
build('c1',{title:'Temp-100', titleColor:RED, titleTop:4, grid:{l:22,t:14,w:212,h:163},
  xmin:0,xmax:426,ticks:ticksT, xname:XNAME, ymin:0,ymax:100,yint:10,yfmt:fmtT, yname:'Temp. [℃]',
  legTop:16, legGap:5.5,
  series:[{name:'T-111',data:T111,color:'#e06060',w:1.5},{name:'T-112',data:T112,color:'#111',w:1.2}]});

build('c2',{title:'Temp-200', titleColor:RED, titleTop:4, grid:{l:21,t:15,w:212,h:173},
  xmin:0,xmax:426,ticks:ticksT, ymin:0,ymax:100,yint:10,yfmt:fmtT, yname:'Temp. [℃]', ynameGap:13.5,
  legTop:16, legGap:4.7,
  series:[{name:'T-211',data:T211,color:'#e8403c'},{name:'T-212',data:T212,color:'#111'},{name:'T-213',data:T213,color:'#3d5fe0'},
    {name:'T-214',data:T214,color:'#2c9a2c'},{name:'T-215',data:T215,color:'#8b5a2b'},{name:'T-216',data:T216,color:'#8a2a9a'},
    {name:'T-217',data:T217,color:'#f0a030'},{name:'T-218',data:T218,color:'#b8b82a'}]});

build('c3',{title:'Temp-300', titleColor:RED, titleTop:4, grid:{l:21,t:15,w:212,h:173},
  xmin:0,xmax:426,ticks:ticksT, ymin:0,ymax:100,yint:10,yfmt:fmtT, yname:'Temp. [℃]', ynameGap:13.5,
  legTop:16, legGap:4.7,
  series:[{name:'T-311',data:T311,color:'#e03030'},{name:'T-312',data:T312,color:'#111'},{name:'T-313',data:T313,color:'#2255dd',w:1.3},
    {name:'T-314',data:T314,color:'#2a8a2a',w:1.3},{name:'T-315',data:T315,color:'#a83020',lc:'#7a4a1a'},{name:'T-316',data:T316,color:'#8a1a9a',w:1.3},
    {name:'T-317',data:T317,color:'#555'},{name:'T-318',data:T318,color:'#f09020'},{name:'T-319',data:T319,color:'#a8a820'},
    {name:'T-320',data:T320,color:'#e0407a'}]});

build('c4',{title:'Temp-400', titleColor:RED, titleTop:5, grid:{l:22,t:16,w:212,h:174},
  xmin:0,xmax:426,ticks:ticksT, ymin:0,ymax:130,yint:10,yfmt:fmtT, yname:'Temp. [℃]',
  legTop:20, legGap:5.5,
  series:[{name:'T-411',data:T411,color:'#e53030'},{name:'T-412',data:T412,color:'#111'},{name:'T-413',data:T413,color:'#2a5ad0'}]});

build('c5',{title:'MFC Flow', titleColor:'#333', titleTop:4, grid:{l:23,t:15,w:211,h:166},
  xmin:9,xmax:342,ticks:ticksFlow, vgrid:true, xfs:6, xname:XNAME, ymin:0,ymax:20,yint:2,yfmt:fmt1, yname:'MFC [lpm]',
  legTop:16, legGap:4.5,
  series:[{name:'CO2',data:mfcCO2,color:'#e05050'},{name:'N2',data:mfcN2,color:'#333',lc:'#333'}]});

build('c6',{title:'Flow 2 (ml/min)', titleColor:'#3355cc', titleTop:4, grid:{l:21,t:16,w:215,h:165},
  xmin:9,xmax:342,ticks:ticksFlow, vgrid:true, xfs:6, ymin:0,ymax:200,yint:20,yfmt:fmtN, yname:'mL/min', ynameGap:13.5,
  legTop:12, legGap:7.5,
  topLine:'#222',
  series:[{name:'F251',data:F251,color:'#ee1111'},{name:'F351',data:F351,color:'#111'},{name:'F352',data:F352,color:'#5566dd',w:1.5}]});

build('c7',{title:'Flow 3 (lpm)', titleColor:'#3355cc', titleTop:4, grid:{l:20,t:16,w:217,h:171},
  xmin:9,xmax:342,ticks:ticksFlow3, vgrid:true, xfs:6, ymin:0,ymax:3.5,yint:0.5,yfmt:fmt1, yname:'LPM', ynameGap:12,
  legTop:21, legGap:5.5,
  series:[{name:'F353',data:F353,color:'#ee2222',z:3},{name:'F451',data:F451,color:'#111'}]});

build('c8',{title:'Press', titleColor:'#222', titleTop:4, grid:{l:25,t:15,w:210,h:168},
  xmin:0,xmax:427,ticks:ticks7, xname:XNAME, ymin:-0.1,ymax:0.1,yint:0.02,yfmt:fmtN, yname:'Press. [bar]', ynameGap:18,
  legTop:13, legGap:2.5,
  series:[{name:'P131',data:P131,color:'#dd2222'},{name:'P133',data:P133,color:'#111',w:2},{name:'P231',data:P231,color:'#1a4fe0'},
    {name:'P331',data:P331,color:'#22aa22'},{name:'P334',data:P334,color:'#b0602a'}]});

build('c9',{title:'Analyzer', titleColor:'#222', titleTop:4, grid:{l:22,t:15,w:213,h:168},
  xmin:0,xmax:427,ticks:ticks7, xname:XNAME, ymin:0,ymax:15,yint:2.5,yfmt:fmtN, yname:'CO2 [%]',
  legTop:16, legGap:3,
  series:[{name:'CO2',data:anCO2,color:'#e03030'}]});

build('c10',{title:'Level', titleColor:'#2f4f1f', titleTop:1, grid:{l:21,t:12,w:212,h:172},
  xmin:0,xmax:427,ticks:ticks7, ymin:0,ymax:250,yint:25,yfmt:fmtN, yname:'Level[mmH2O]', ynameGap:13.5,
  legTop:12, legGap:3.5, topLine:'#333',
  series:[{name:'L241',data:L241,color:'#e02a2a'},{name:'L242',data:L242,color:'#111'},{name:'L341',data:L341,color:'#2277dd',w:1.5},
    {name:'L342',data:L342,color:'#22aa88',w:1.5},{name:'L343',data:L343,color:'#a0522d',w:1.5,z:1}]});
</script>
</body></html>
